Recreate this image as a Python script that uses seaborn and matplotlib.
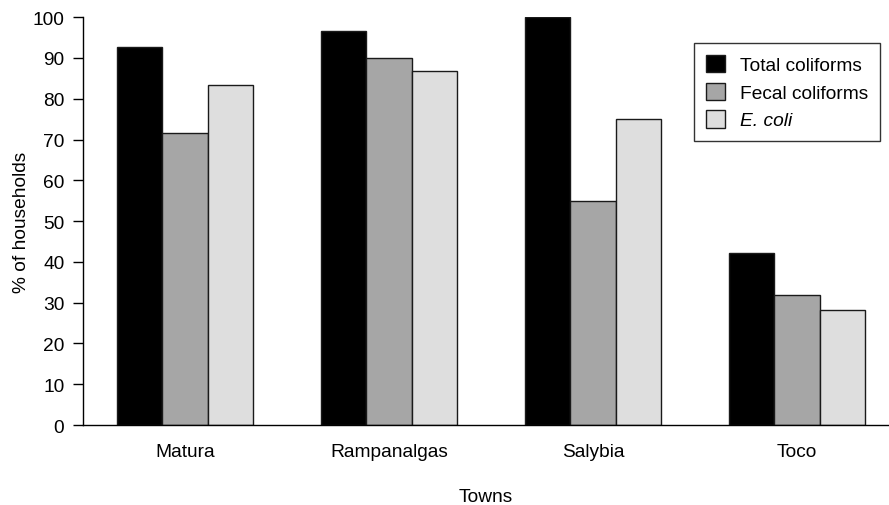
import matplotlib
matplotlib.use("Agg")
import matplotlib.pyplot as plt
import seaborn as sns
import pandas as pd

towns = ["Matura", "Rampanalgas", "Salybia", "Toco"]
series = ["Total coliforms", "Fecal coliforms", "E. coli"]
total_coliforms = [92.6, 96.6, 100.0, 42.1]
fecal_coliforms = [71.6, 89.9, 55.0, 32.0]
e_coli = [83.4, 86.7, 75.0, 28.1]
colors = ["#000000", "#a6a6a6", "#dedede"]

rows = []
for s, vals in zip(series, [total_coliforms, fecal_coliforms, e_coli]):
    for t, v in zip(towns, vals):
        rows.append({"Towns": t, "Series": s, "Value": v})
df = pd.DataFrame(rows)

sns.set_style("ticks")
plt.rcParams["font.family"] = ["Liberation Sans", "DejaVu Sans"]
plt.rcParams["text.color"] = "black"
plt.rcParams["axes.labelcolor"] = "black"
plt.rcParams["xtick.color"] = "black"
plt.rcParams["ytick.color"] = "black"

fs = 13.8
fig = plt.figure(figsize=(8.89, 5.06), dpi=100)
ax = fig.add_axes([0.0934, 0.158, 0.9066, 0.806])

sns.barplot(data=df, x="Towns", y="Value", hue="Series", order=towns,
            hue_order=series, palette=colors, width=0.667, ax=ax,
            edgecolor="#1a1a1a", linewidth=1.0, saturation=1, errorbar=None)

ax.set_ylim(0, 100)
ax.set_xlim(-0.5, 3.45)
ax.set_yticks(range(0, 101, 10))
ax.tick_params(axis="y", direction="out", length=7.5, width=1, pad=6, labelsize=fs, colors="black")
ax.tick_params(axis="x", length=0, pad=13, labelsize=fs, colors="black")
ax.set_xlabel("Towns", fontsize=fs, labelpad=20, color="black")
ax.set_ylabel("% of households", fontsize=fs, labelpad=2, color="black")
for side in ["top", "right"]:
    ax.spines[side].set_visible(False)
for side in ["left", "bottom"]:
    ax.spines[side].set_linewidth(1.0)
    ax.spines[side].set_color("black")

leg = ax.legend(loc="upper right", bbox_to_anchor=(0.989, 0.936), frameon=True,
                fancybox=False, edgecolor="black", fontsize=fs, borderaxespad=0,
                handlelength=1.0, handleheight=1.0, handletextpad=0.8,
                borderpad=0.6, labelspacing=0.45)
leg.get_frame().set_linewidth(1.0)
for t in leg.get_texts():
    t.set_color("black")
leg.get_texts()[2].set_fontstyle("italic")

fig.savefig("out.png", dpi=100)
